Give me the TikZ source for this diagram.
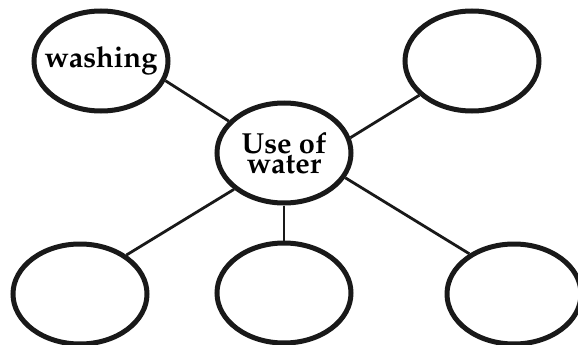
\documentclass[tikz,border=0pt]{standalone}
\usepackage[T1]{fontenc}
\usepackage{mathpazo}
\usetikzlibrary{shapes.geometric}
\tikzset{
  bubble/.style={ellipse, draw=black!90, line width=5pt, minimum width=134pt, minimum height=100pt, inner sep=0pt},
  btext/.style={align=center, inner sep=0pt, font=\fontsize{29}{20}\selectfont\bfseries},
  link/.style={draw=black!90, line width=2.8pt}
}
\begin{document}
\begin{tikzpicture}[x=1pt,y=-1pt]
\useasboundingbox (0,0) rectangle (578,345);
\node[bubble] (wash) at (101,61) {};
\node[btext] (washt) at (wash.center) {washing};
\node[bubble] (tr) at (472,61) {};
\node[bubble] (c) at (284,153) {};
\node[btext] (ct) at (c.center) {Use of\\water};
\node[bubble] (bl) at (80,294) {};
\node[bubble] (bm) at (284,293) {};
\node[bubble] (br) at (514,294) {};
\draw[link] (wash.-17) -- (c.150);
\draw[link] (tr.213) -- (c.13);
\draw[link] (c.216) -- (bl.40);
\draw[link] (c.270) -- (bm.90);
\draw[link] (c.-22) -- (br.138);
\end{tikzpicture}
\end{document}
